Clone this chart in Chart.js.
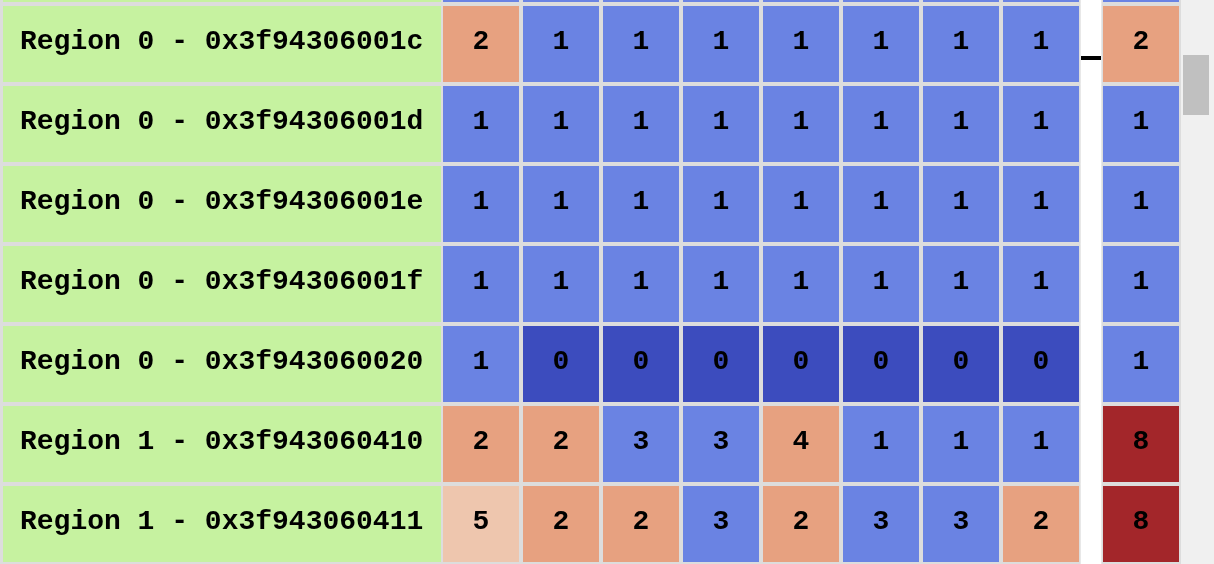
<!DOCTYPE html>
<html>
<head>
<meta charset="utf-8">
<script src="https://cdn.jsdelivr.net/npm/chart.js@4"></script>
<style>
  html, body { margin: 0; padding: 0; background: #dddddd; overflow: hidden; }
  #wrap { position: absolute; left: 0; top: 0; width: 1214px; height: 564px; overflow: hidden; background: #dddddd; }
  #box { position: absolute; left: 0; top: -76px; width: 1181px; height: 640px; }
  #track { position: absolute; left: 1181px; top: 0; width: 33px; height: 564px; background: #f0f0f0; }
  #thumb { position: absolute; left: 2px; top: 55px; width: 26px; height: 60px; background: #c0c0c0; }
  #marker { position: absolute; left: 1081px; top: 56px; width: 20px; height: 4px; background: #000; }
</style>
</head>
<body>
<div id="wrap">
  <div id="box"><canvas id="heat"></canvas></div>
  <div id="marker"></div>
  <div id="track"><div id="thumb"></div></div>
</div>
<script>
// rows (first one is only partly visible at the top edge)
const rowLabels = [
  'Region 0 - 0x3f94306001b',
  'Region 0 - 0x3f94306001c',
  'Region 0 - 0x3f94306001d',
  'Region 0 - 0x3f94306001e',
  'Region 0 - 0x3f94306001f',
  'Region 0 - 0x3f943060020',
  'Region 1 - 0x3f943060410',
  'Region 1 - 0x3f943060411'
];
const cellValues = [
  [1, 1, 1, 1, 1, 1, 1, 1],
  [2, 1, 1, 1, 1, 1, 1, 1],
  [1, 1, 1, 1, 1, 1, 1, 1],
  [1, 1, 1, 1, 1, 1, 1, 1],
  [1, 1, 1, 1, 1, 1, 1, 1],
  [1, 0, 0, 0, 0, 0, 0, 0],
  [2, 2, 3, 3, 4, 1, 1, 1],
  [5, 2, 2, 3, 2, 3, 3, 2]
];
const totals = [1, 2, 1, 1, 1, 1, 8, 8];
// heat level of each cell: 0 low .. 4 high
const cellLevels = [
  [1, 1, 1, 1, 1, 1, 1, 1],
  [2, 1, 1, 1, 1, 1, 1, 1],
  [1, 1, 1, 1, 1, 1, 1, 1],
  [1, 1, 1, 1, 1, 1, 1, 1],
  [1, 1, 1, 1, 1, 1, 1, 1],
  [1, 0, 0, 0, 0, 0, 0, 0],
  [2, 2, 1, 1, 2, 1, 1, 1],
  [3, 2, 2, 1, 2, 1, 1, 2]
];
const totalLevels = [1, 2, 1, 1, 1, 1, 4, 4];

const palette = ['#3c4cbe', '#6a83e3', '#e7a180', '#eec6ae', '#a3262a'];
const labelColor = '#c6f2a0';

const nCols = 8;
const datasets = [];

// label column
datasets.push({
  data: rowLabels.map(() => [-5.5, -0.025]),
  backgroundColor: labelColor,
  texts: rowLabels,
  textAlign: 'left'
});
// value columns
for (let c = 0; c < nCols; c++) {
  datasets.push({
    data: cellValues.map(() => [c, c + 0.95]),
    backgroundColor: cellLevels.map(r => palette[r[c]]),
    texts: cellValues.map(r => String(r[c])),
    textAlign: 'center'
  });
}
// white divider before the total column
datasets.push({
  data: rowLabels.map(() => [7.975, 8.225]),
  backgroundColor: '#ffffff',
  barPercentage: 1,
  categoryPercentage: 1
});
// total column
datasets.push({
  data: totals.map(() => [8.25, 9.2]),
  backgroundColor: totalLevels.map(l => palette[l]),
  texts: totals.map(String),
  textAlign: 'center'
});

const cellText = {
  id: 'cellText',
  afterDatasetsDraw(chart) {
    const ctx = chart.ctx;
    ctx.save();
    ctx.fillStyle = '#000';
    ctx.font = 'bold 28px "Liberation Mono", monospace';
    ctx.textBaseline = 'middle';
    chart.data.datasets.forEach((ds, i) => {
      if (!ds.texts) return;
      chart.getDatasetMeta(i).data.forEach((bar, j) => {
        const left = Math.min(bar.x, bar.base);
        const right = Math.max(bar.x, bar.base);
        if (ds.textAlign === 'left') {
          ctx.textAlign = 'left';
          ctx.fillText(ds.texts[j], left + 17, bar.y - 2);
        } else {
          ctx.textAlign = 'center';
          ctx.fillText(ds.texts[j], (left + right) / 2, bar.y - 2);
        }
      });
    });
    ctx.restore();
  }
};

new Chart(document.getElementById('heat'), {
  type: 'bar',
  data: { labels: rowLabels, datasets: datasets },
  options: {
    indexAxis: 'y',
    responsive: true,
    maintainAspectRatio: false,
    animation: false,
    layout: { padding: 0 },
    datasets: {
      bar: { grouped: false, barPercentage: 0.95, categoryPercentage: 1, borderWidth: 0 }
    },
    plugins: { legend: { display: false }, tooltip: { enabled: false } },
    scales: {
      x: { type: 'linear', min: -5.5375, max: 9.225, display: false },
      y: { type: 'category', display: false }
    }
  },
  plugins: [cellText]
});
</script>
</body>
</html>
